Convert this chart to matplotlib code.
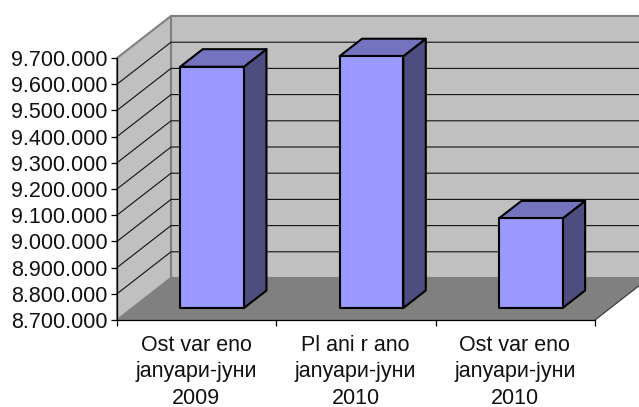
import matplotlib
matplotlib.use('Agg')
import matplotlib.pyplot as plt

plt.rcParams['font.family'] = ['Liberation Sans', 'DejaVu Sans']

categories = ['Ost var eno\njanуари-јуни\n2009',
              'Pl ani r ano\njanуари-јуни\n2010',
              'Ost var eno\njanуари-јуни\n2010']
values = [9621000, 9661000, 9042000]
y_ticks = [8700000, 8800000, 8900000, 9000000, 9100000, 9200000,
           9300000, 9400000, 9500000, 9600000, 9700000]

y_min = 8700000
y_max = 9700000
# pomak dubine u jedinicama podataka
depth_x = 54 / 159.33
depth_y = 42 / 262 * (y_max - y_min)
bar_w = 0.40
bar_front = 12 / 42
bar_back = 29.5 / 42


def proj(x, v, d):
    return x + d * depth_x, v + d * depth_y


def face(ax, pts, color, edge, lw, z):
    xs = [p[0] for p in pts]
    ys = [p[1] for p in pts]
    ax.fill(xs, ys, facecolor=color, edgecolor=edge, linewidth=lw,
            zorder=z, clip_on=False, joinstyle='round')


fig = plt.figure(figsize=(6.39, 4.07), dpi=100)
ax = fig.add_axes([117 / 639, (407 - 320) / 407, 478 / 639, 262 / 407])
ax.set_xlim(0, len(values))
ax.set_ylim(y_min, y_max)
ax.patch.set_visible(False)

n = len(values)
# zidovi i pod
face(ax, [proj(0, y_min, 1), proj(n, y_min, 1), proj(n, y_max, 1), proj(0, y_max, 1)],
     '#C0C0C0', '#808080', 1.5, 1)
face(ax, [proj(0, y_min, 0), proj(0, y_min, 1), proj(0, y_max, 1), proj(0, y_max, 0)],
     '#C0C0C0', '#808080', 1.5, 1)
face(ax, [proj(0, y_min, 0), proj(n, y_min, 0), proj(n, y_min, 1), proj(0, y_min, 1)],
     '#808080', 'none', 0, 2)

# mreza
for t in y_ticks[1:-1]:
    x0, y0 = proj(0, t, 0)
    x1, y1 = proj(0, t, 1)
    x2, y2 = proj(n, t, 1)
    ax.plot([x0, x1, x2], [y0, y1, y2], color='#111111', lw=0.8, zorder=3,
            clip_on=False, solid_joinstyle='miter')

x3, y3 = proj(n, y_min, 1)
ax.plot([n, x3], [y_min, y3], color='#333333', lw=0.8, zorder=3, clip_on=False)

# stubici
for i, v in enumerate(values):
    left = i + 0.5 - bar_w / 2
    right = i + 0.5 + bar_w / 2
    face(ax, [proj(right, y_min, bar_front), proj(right, y_min, bar_back),
              proj(right, v, bar_back), proj(right, v, bar_front)],
         '#4D4D80', 'black', 1.5, 4)
    face(ax, [proj(left, v, bar_front), proj(right, v, bar_front),
              proj(right, v, bar_back), proj(left, v, bar_back)],
         '#7373BF', 'black', 1.5, 4)
    face(ax, [proj(left, y_min, bar_front), proj(right, y_min, bar_front),
              proj(right, v, bar_front), proj(left, v, bar_front)],
         '#9999FF', 'black', 1.5, 5)

ax.spines['top'].set_visible(False)
ax.spines['right'].set_visible(False)
ax.spines['left'].set_linewidth(0.9)
ax.spines['bottom'].set_linewidth(0.9)
ax.spines['left'].set_zorder(6)
ax.spines['bottom'].set_zorder(6)

ax.set_yticks(y_ticks)
ax.set_yticklabels([f'{t:,}'.replace(',', '.') for t in y_ticks], fontsize=15.5, color='#111111')
ax.set_xticks(range(n + 1))
ax.set_xticklabels([''] * (n + 1))
ax.tick_params(axis='y', length=4, width=0.9, pad=2.8)
ax.tick_params(axis='x', length=4.5, width=0.9)

for i, c in enumerate(categories):
    ax.annotate(c, xy=(i + 0.5, y_min), xycoords='data', xytext=(-0.3, -10.8),
                textcoords='offset points', ha='center', va='top',
                fontsize=15.5, linespacing=1.33, color='#111111', annotation_clip=False)

fig.savefig('out.png', dpi=100)
